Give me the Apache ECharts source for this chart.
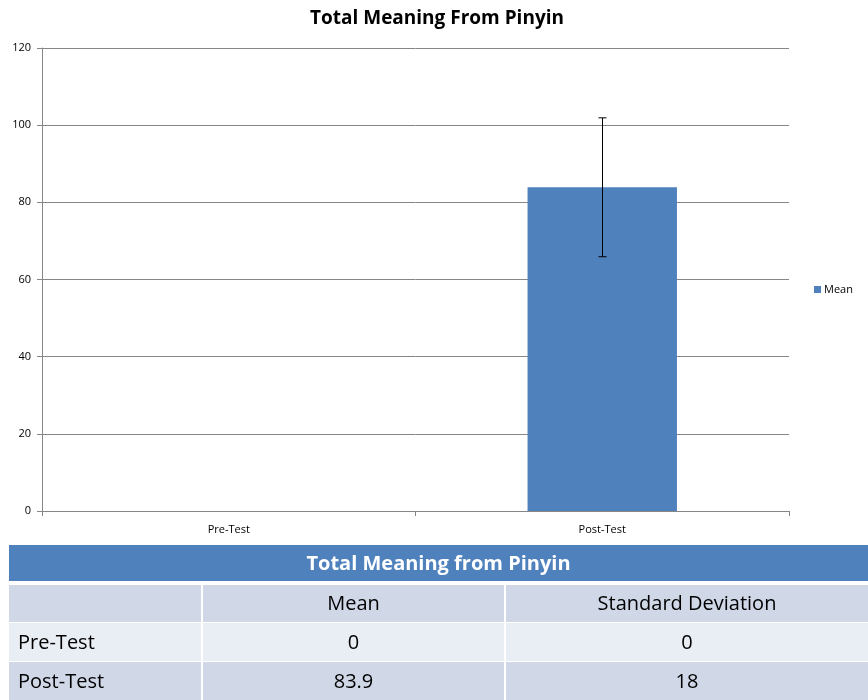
<!DOCTYPE html>
<html>
<head>
<meta charset="utf-8">
<script src="https://cdn.jsdelivr.net/npm/echarts@6/dist/echarts.min.js"></script>
<style>
  html, body { margin: 0; padding: 0; background: #fff; }
  #chart { width: 868px; height: 700px; }
</style>
</head>
<body>
<div id="chart"></div>
<script>
// Test phases and summary statistics
const categories = ['Pre-Test', 'Post-Test'];
const meanValues = [0, 83.9];
const sdValues = [0, 18];
const yTicks = [0, 20, 40, 60, 80, 100, 120];

// Summary table contents
const tableTitle = 'Total Meaning from Pinyin';
const tableHeader = ['', 'Mean', 'Standard Deviation'];
const tableRows = categories.map((c, i) => [c, String(meanValues[i]), String(sdValues[i])]);

const FONT = '"Open Sans", sans-serif';
const chart = echarts.init(document.getElementById('chart'), null, { renderer: 'canvas' });

// Table layout
const tableLeft = 9, tableRight = 868;
const colEdges = [tableLeft, 202, 505, tableRight];
const headerTop = 545, headerH = 36;
const rowTops = [585, 623, 662];
const rowH = [37, 38, 38];
const rowFills = ['#D0D8E8', '#E9EDF4', '#D0D8E8'];

const graphics = [];
graphics.push({
  type: 'rect', shape: { x: tableLeft, y: headerTop, width: tableRight - tableLeft, height: headerH },
  style: { fill: '#4F81BD' }
});
graphics.push({
  type: 'text', x: (tableLeft + tableRight) / 2, y: headerTop + headerH / 2 + 1,
  style: { text: tableTitle, fill: '#fff', font: 'bold 20px ' + FONT, textAlign: 'center', textVerticalAlign: 'middle' }
});
const allRows = [tableHeader].concat(tableRows);
allRows.forEach((row, r) => {
  for (let c = 0; c < 3; c++) {
    const x0 = colEdges[c] + (c > 0 ? 1 : 0);
    const x1 = colEdges[c + 1] - (c < 2 ? 1 : 0);
    graphics.push({
      type: 'rect', shape: { x: x0, y: rowTops[r], width: x1 - x0, height: rowH[r] },
      style: { fill: rowFills[r] }
    });
    if (row[c] !== '') {
      graphics.push({
        type: 'text',
        x: c === 0 ? x0 + 9 : (x0 + x1) / 2,
        y: rowTops[r] + rowH[r] / 2 + 1,
        style: { text: row[c], fill: '#000', font: '20px ' + FONT,
          textAlign: c === 0 ? 'left' : 'center', textVerticalAlign: 'middle' }
      });
    }
  }
});

chart.setOption({
  animation: false,
  backgroundColor: '#fff',
  title: {
    text: 'Total Meaning From Pinyin',
    left: 432, top: 4, textAlign: 'center',
    textStyle: { fontFamily: FONT, fontWeight: 'bold', fontSize: 19, color: '#000' }
  },
  legend: {
    data: ['Mean'],
    orient: 'vertical',
    left: 809, top: 279,
    itemWidth: 7, itemHeight: 7, itemGap: 4,
    icon: 'rect',
    textStyle: { fontFamily: FONT, fontSize: 11, color: '#000', padding: [0, 0, 0, -2] }
  },
  grid: { left: 42, right: 79, top: 48, bottom: 189 },
  xAxis: {
    type: 'category',
    data: categories,
    axisLine: { lineStyle: { color: '#868686' } },
    axisTick: { show: true, length: 5, lineStyle: { color: '#868686' } },
    axisLabel: { fontFamily: FONT, fontSize: 11, color: '#000', margin: 13 }
  },
  yAxis: {
    type: 'value', min: 0, max: 120, interval: 20,
    axisLine: { show: true, lineStyle: { color: '#868686' } },
    axisTick: { show: true, length: 5, lineStyle: { color: '#868686' } },
    axisLabel: { fontFamily: FONT, fontSize: 11, color: '#000', margin: 11,
      formatter: v => yTicks.includes(v) ? String(v) : '' },
    splitLine: { lineStyle: { color: '#868686' } }
  },
  series: [
    {
      name: 'Mean',
      type: 'bar',
      data: meanValues,
      barWidth: '40%',
      itemStyle: { color: '#4F81BD' }
    },
    {
      name: 'SD',
      type: 'custom',
      z: 5,
      data: categories.map((c, i) => [i, meanValues[i] - sdValues[i], meanValues[i] + sdValues[i]]),
      renderItem: function (params, api) {
        const lo = api.coord([api.value(0), api.value(1)]);
        const hi = api.coord([api.value(0), api.value(2)]);
        if (Math.abs(hi[1] - lo[1]) < 0.5) return null;
        const x = Math.round(hi[0]) + 0.5;
        const cap = 4;
        const st = { stroke: '#000', lineWidth: 1 };
        return {
          type: 'group',
          children: [
            { type: 'line', shape: { x1: x, y1: hi[1], x2: x, y2: lo[1] }, style: st },
            { type: 'line', shape: { x1: x - cap, y1: hi[1], x2: x + cap, y2: hi[1] }, style: st },
            { type: 'line', shape: { x1: x - cap, y1: lo[1], x2: x + cap, y2: lo[1] }, style: st }
          ]
        };
      }
    }
  ],
  graphic: graphics
});
</script>
</body>
</html>
